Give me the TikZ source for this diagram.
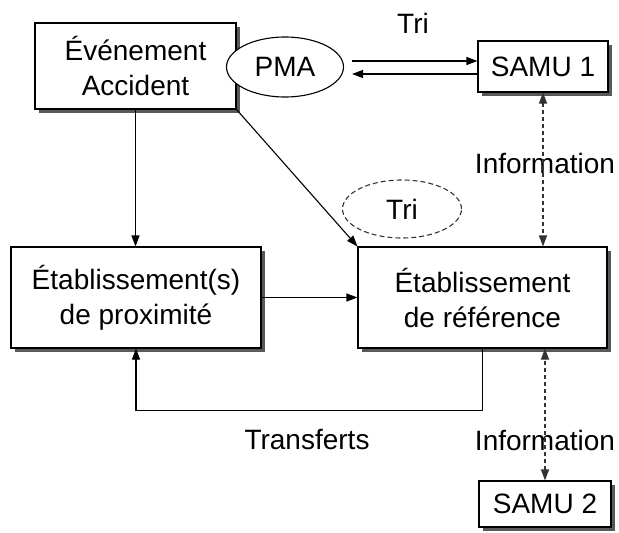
\documentclass[tikz,border=0pt]{standalone}
\usepackage{fontspec}
\setmainfont{Liberation Sans}
\usetikzlibrary{shapes.geometric,shadows,arrows.meta}
\begin{document}
\begin{tikzpicture}[x=1pt,y=-1pt,
  every node/.style={font=\fontsize{28}{35}\selectfont},
  box/.style={draw,line width=1.1pt,fill=white,align=center,inner sep=0pt,
    drop shadow={shadow xshift=3.5pt,shadow yshift=-3.5pt,fill=black!65,opacity=1}},
  conn/.style={line width=1.1pt,-{Triangle[length=11pt,width=8pt]}},
  dconn/.style={line width=1.1pt,draw=black!80,dash pattern=on 4pt off 3pt,{Triangle[length=11pt,width=8pt]}-{Triangle[length=11pt,width=8pt]}},
  lbl/.style={inner sep=0pt}]
\useasboundingbox (0,0) rectangle (619,533);
\node[box,minimum width=201pt,minimum height=86pt] (ev) at (135.5,66) {Événement\\Accident};
\node[draw,ellipse,line width=1.1pt,fill=white,minimum width=117pt,minimum height=60pt,inner sep=0pt] (pma) at (285,67) {PMA};
\node[box,minimum width=130pt,minimum height=51pt] (samu1) at (543,66.5) {SAMU 1};
\node[box,minimum width=250pt,minimum height=101pt] (prox) at (136,297.5) {Établissement(s)\\de proximité};
\node[box,minimum width=249pt,minimum height=101pt] (ref) at (482.5,297.5) {Établissement\\de référence};
\node[box,minimum width=132pt,minimum height=46pt] (samu2) at (545,504) {SAMU 2};
\node[draw,ellipse,line width=1.1pt,draw=black!80,dash pattern=on 5pt off 3pt,minimum width=119pt,minimum height=58pt,inner sep=0pt] (tri) at (402,209) {Tri};
\node[lbl] (lt) at (413,23) {Tri};
\node[lbl] (li1) at (545,163) {Information};
\node[lbl] (ltr) at (307,440) {Transferts};
\node[lbl] (li2) at (545,440) {Information};
\draw[conn] ([xshift=8pt,yshift=6pt]pma.east) -- ([yshift=5.5pt]samu1.west);
\draw[conn] ([yshift=-7.5pt]samu1.west) -- ([xshift=8pt,yshift=-7pt]pma.east);
\draw[conn] (ev.south) -- (ev.south |- prox.north);
\draw[conn] (ev.south east) -- (ref.north west);
\draw[conn] (prox.east) -- (ref.west);
\draw[dconn] (samu1.south) -- (samu1.south |- ref.north);
\draw[dconn] (samu2.north) -- (samu2.north |- ref.south);
\draw[conn] (ref.south) -- ++(0,62) -| (prox.south);
\end{tikzpicture}
\end{document}
